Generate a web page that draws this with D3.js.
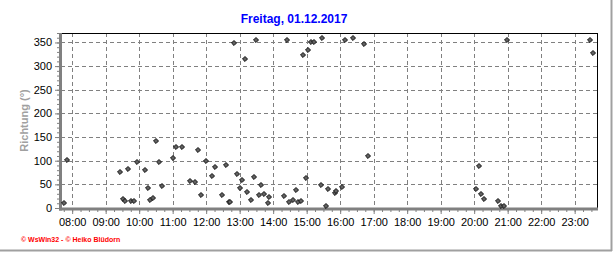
<!DOCTYPE html>
<html>
<head>
<meta charset="utf-8">
<script src="https://cdn.jsdelivr.net/npm/d3@7"></script>
<style>
body{margin:0;background:#fff;}
svg{display:block;font-family:Arial,"Liberation Sans",sans-serif;}
</style>
</head>
<body>
<div id="plot"></div>
<script>
// Richtung over the day
var times = ['07:46','07:51','09:26','09:31','09:35','09:40','09:46','09:51','09:56','10:10',
  '10:16','10:19','10:25','10:30','10:35','10:41','11:00','11:06','11:16','11:31',
  '11:40','11:45','11:50','12:00','12:10','12:16','12:29','12:35','12:40','12:43',
  '12:49','12:55','13:00','13:05','13:09','13:14','13:20','13:25','13:29','13:34',
  '13:39','13:44','13:50','13:53','14:19','14:24','14:29','14:35','14:40','14:44',
  '14:49','14:54','14:59','15:03','15:08','15:14','15:25','15:28','15:34','15:39',
  '15:50','15:53','16:04','16:09','16:23','16:43','16:49','20:03','20:08','20:12',
  '20:17','20:43','20:48','20:53','20:59','23:27','23:32'];
var richtung = [11,102,76,19,15,83,15,15,97,80,
  43,17,21,141,97,47,106,129,129,57,
  55,123,28,99,68,87,28,91,13,13,
  348,72,42,59,315,34,17,66,355,27,
  49,30,11,23,26,355,13,17,38,13,
  15,324,64,334,350,350,49,359,4,40,
  32,36,45,355,359,346,110,40,89,30,
  19,15,4,4,355,355,327];
var yTicks = [0,50,100,150,200,250,300,350];
var title = 'Freitag, 01.12.2017';

var W = 616, H = 253;
var margin = {t:33, r:19, b:45, l:61};
var width = W - margin.l - margin.r,
    height = H - margin.t - margin.b;

var parse = d3.timeParse('%Y-%m-%d %H:%M');
var day = '2017-12-01 ';
var data = times.map(function(t,i){ return {t:parse(day+t), v:richtung[i]}; });

var svg = d3.select('#plot').append('svg')
    .attr('width',W).attr('height',H);

// outer frame lines (gray)
svg.append('line').attr('x1',611.5).attr('x2',611.5).attr('y1',0).attr('y2',251)
    .attr('stroke','#a0a0a0').attr('stroke-width',2);
svg.append('line').attr('x1',0).attr('x2',612).attr('y1',250.5).attr('y2',250.5)
    .attr('stroke','#a0a0a0').attr('stroke-width',2);

var plot = svg.append('g')
    .attr('transform','translate('+margin.l+','+margin.t+')');

var x = d3.scaleTime()
    .domain([parse(day+'07:40'), parse(day+'23:40')])
    .range([0,width]);
var y = d3.scaleLinear().domain([0,370]).range([height,0]);

var hours = d3.timeHour.every(1).range(parse(day+'08:00'), parse(day+'23:40'));
var quarters = d3.timeMinute.every(15).range(parse(day+'07:45'), parse(day+'23:40'));

// dashed grid
plot.selectAll('.vgrid').data(hours).enter().append('line')
    .attr('x1',function(d){return Math.round(x(d))+0.5;})
    .attr('x2',function(d){return Math.round(x(d))+0.5;})
    .attr('y1',0).attr('y2',height)
    .attr('stroke','#808080').attr('stroke-dasharray','4,3');
plot.selectAll('.hgrid').data(yTicks.filter(function(d){return d>0;})).enter().append('line')
    .attr('x1',0).attr('x2',width)
    .attr('y1',function(d){return Math.round(y(d))+0.5;})
    .attr('y2',function(d){return Math.round(y(d))+0.5;})
    .attr('stroke','#808080').attr('stroke-dasharray','4,3');

// top and right border
plot.append('line').attr('x1',0).attr('x2',width+0.5).attr('y1',0.5).attr('y2',0.5).attr('stroke','#000');
plot.append('line').attr('x1',width+0.5).attr('x2',width+0.5).attr('y1',0).attr('y2',height).attr('stroke','#000');

// x axis
var xMinor = d3.axisBottom(x).tickValues(quarters).tickSize(3).tickFormat('');
var xMajor = d3.axisBottom(x).tickValues(hours).tickSize(5).tickPadding(4)
    .tickFormat(d3.timeFormat('%H:%M'));
var gxm = plot.append('g').attr('transform','translate(0,'+(height+1)+')').call(xMinor);
var gx = plot.append('g').attr('transform','translate(0,'+(height+1)+')').call(xMajor);
[gxm,gx].forEach(function(g){
  g.select('.domain').remove();
  g.selectAll('line').attr('stroke','#808080');
});
gx.selectAll('text').attr('font-size',11).attr('fill','#000').attr('font-family','Arial,"Liberation Sans",sans-serif');

// y axis
var yMinor = d3.axisLeft(y).tickValues(d3.range(0,371,10)).tickSize(3).tickFormat('');
var yMajor = d3.axisLeft(y).tickValues(yTicks).tickSize(5).tickPadding(3);
var gym = plot.append('g').attr('transform','translate(-1,0)').call(yMinor);
var gy = plot.append('g').attr('transform','translate(-1,0)').call(yMajor);
[gym,gy].forEach(function(g){
  g.select('.domain').remove();
  g.selectAll('line').attr('stroke','#808080');
});
gy.selectAll('text').attr('font-size',11).attr('fill','#000').attr('font-family','Arial,"Liberation Sans",sans-serif');

// thick gray axis lines
plot.append('line').attr('x1',-0.5).attr('x2',-0.5).attr('y1',0).attr('y2',height+2.5)
    .attr('stroke','#808080').attr('stroke-width',3);
plot.append('line').attr('x1',-2).attr('x2',width+1).attr('y1',height+1).attr('y2',height+1)
    .attr('stroke','#808080').attr('stroke-width',3);

// points (diamonds)
var diamond = d3.symbol().type(d3.symbolDiamond2).size(16);
plot.selectAll('.pt').data(data).enter().append('path')
    .attr('d',diamond)
    .attr('transform',function(d){return 'translate('+Math.round(x(d.t))+','+Math.round(y(d.v))+')';})
    .attr('fill','#606060').attr('stroke','#101010').attr('stroke-width',1);

// title
svg.append('text').attr('x',294).attr('y',23).attr('text-anchor','middle')
    .attr('font-size',12).attr('font-weight','bold').attr('fill','#0000ff')
    .text(title);

// y label
svg.append('text').attr('transform','translate(28,'+(margin.t+height/2)+') rotate(-90)')
    .attr('text-anchor','middle').attr('font-size',11).attr('font-weight','bold')
    .attr('fill','#a0a0a0').text('Richtung (°)');

// credits
svg.append('text').attr('x',21).attr('y',242)
    .attr('font-size',7).attr('font-weight','bold').attr('fill','#ff0000')
    .text('© WsWin32 - © Heiko Blüdorn');
</script>
</body>
</html>
